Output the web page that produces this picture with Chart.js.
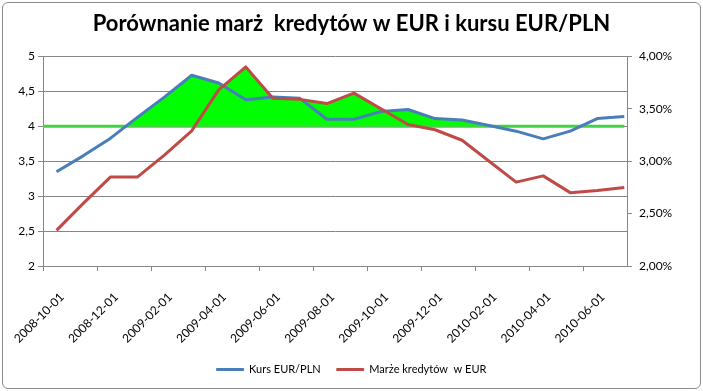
<!DOCTYPE html>
<html>
<head>
<meta charset="utf-8">
<script src="https://cdn.jsdelivr.net/npm/chart.js@4.4.0/dist/chart.umd.min.js"></script>
<style>
  html, body { margin: 0; padding: 0; background: #fff; }
  #wrap { position: relative; width: 703px; height: 391px; }
  #frame { position: absolute; left: 2px; top: 2px; width: 697px; height: 385px;
           border: 1px solid #8c8c8c; border-radius: 6px; pointer-events: none; }
</style>
</head>
<body>
<div id="wrap">
  <canvas id="chart" width="703" height="391"></canvas>
  <div id="frame"></div>
</div>
<script>
// months (first day of each month)
const months = [
  "2008-10-01", "2008-11-01", "2008-12-01", "2009-01-01", "2009-02-01", "2009-03-01",
  "2009-04-01", "2009-05-01", "2009-06-01", "2009-07-01", "2009-08-01", "2009-09-01",
  "2009-10-01", "2009-11-01", "2009-12-01", "2010-01-01", "2010-02-01", "2010-03-01",
  "2010-04-01", "2010-05-01", "2010-06-01", "2010-07-01"
];

// Kurs EUR/PLN (left axis)
const kursEurPln = [3.35, 3.58, 3.83, 4.13, 4.42, 4.73, 4.62, 4.38, 4.42, 4.40, 4.10,
                    4.10, 4.21, 4.24, 4.11, 4.09, 4.01, 3.93, 3.82, 3.93, 4.11, 4.14];

// Marze kredytow w EUR, % (right axis)
const marzeEur = [2.34, 2.60, 2.85, 2.85, 3.06, 3.29, 3.68, 3.90, 3.60, 3.59, 3.55,
                  3.65, 3.50, 3.35, 3.30, 3.20, 3.00, 2.80, 2.86, 2.70, 2.72, 2.75];

// green threshold line on the left axis, and the last month of the green area
const prog = 4;
const greenUntil = 16;

const leftTicks = [2, 2.5, 3, 3.5, 4, 4.5, 5];
const rightTicks = [2, 2.5, 3, 3.5, 4];

const BLUE = "#4A7EBB";
const RED = "#BE4B48";
const GRID = "#868686";

const xMin = -0.5;
const xMax = 21.1;

// the same height as "prog" expressed on the right axis
const yMin = leftTicks[0], yMax = leftTicks[leftTicks.length - 1];
const y1Min = rightTicks[0], y1Max = rightTicks[rightTicks.length - 1];
const progRight = y1Min + (prog - yMin) / (yMax - yMin) * (y1Max - y1Min);

const pts = arr => arr.map((v, i) => ({ x: i, y: v }));
const ptsUntil = arr => arr.map((v, i) => ({ x: i, y: i <= greenUntil ? v : null }));

Chart.defaults.font.family = "Lato";
Chart.defaults.color = "#000";

new Chart(document.getElementById("chart"), {
  type: "line",
  data: {
    datasets: [
      {
        label: "Kurs EUR/PLN",
        data: pts(kursEurPln),
        yAxisID: "y",
        borderColor: BLUE,
        backgroundColor: BLUE,
        borderWidth: 3,
        pointRadius: 0,
        borderJoinStyle: "round",
        order: 1
      },
      {
        label: "Marże kredytów  w EUR",
        data: pts(marzeEur),
        yAxisID: "y1",
        borderColor: RED,
        backgroundColor: RED,
        borderWidth: 3,
        pointRadius: 0,
        borderJoinStyle: "round",
        order: 0
      },
      {
        label: "prog",
        data: [{ x: xMin, y: prog }, { x: months.length - 1, y: prog }],
        yAxisID: "y",
        borderColor: "#40D440",
        borderWidth: 3,
        pointRadius: 0,
        order: 2
      },
      {
        label: "fillKurs",
        data: ptsUntil(kursEurPln),
        yAxisID: "y",
        borderColor: "transparent",
        pointRadius: 0,
        fill: { target: { value: prog }, above: "#00FF00", below: "rgba(0,0,0,0)" },
        order: 3
      },
      {
        label: "fillMarze",
        data: ptsUntil(marzeEur),
        yAxisID: "y1",
        borderColor: "transparent",
        pointRadius: 0,
        fill: { target: { value: progRight }, above: "#00FF00", below: "rgba(0,0,0,0)" },
        order: 4
      }
    ]
  },
  options: {
    responsive: false,
    animation: false,
    layout: { padding: { left: 0, right: 0, top: 0, bottom: 6 } },
    plugins: {
      title: {
        display: true,
        text: "Porównanie marż  kredytów w EUR i kursu EUR/PLN",
        font: { family: "Lato", size: 22, weight: "bold" },
        color: "#000",
        padding: { top: 11, bottom: 19 }
      },
      legend: {
        position: "bottom",
        labels: {
          font: { family: "Lato", size: 11 },
          color: "#000",
          boxWidth: 27,
          boxHeight: 2,
          padding: 16,
          filter: item => item.datasetIndex < 2,
          sort: (a, b) => a.datasetIndex - b.datasetIndex,
          generateLabels: chart => {
            const items = Chart.defaults.plugins.legend.labels.generateLabels(chart);
            return items.map(it => {
              it.fillStyle = it.strokeStyle;
              it.lineWidth = 1;
              return it;
            });
          }
        }
      },
      tooltip: { enabled: false }
    },
    scales: {
      x: {
        type: "linear",
        min: xMin,
        max: xMax,
        afterBuildTicks: scale => {
          scale.ticks = months
            .map((m, i) => i)
            .filter(i => i % 2 === 0)
            .map(i => ({ value: i - 0.5 }));
        },
        afterFit: scale => {
          scale.height = 82;
          scale.paddingLeft = 0;
          scale.paddingRight = 0;
        },
        ticks: {
          autoSkip: false,
          minRotation: 45,
          maxRotation: 45,
          padding: 19,
          labelOffset: 19,
          font: { size: 12 },
          callback: value => months[Math.round(value + 0.5)]
        },
        grid: { drawOnChartArea: false, color: GRID, tickLength: 5 },
        border: { color: GRID }
      },
      y: {
        position: "left",
        min: yMin,
        max: yMax,
        afterBuildTicks: scale => { scale.ticks = leftTicks.map(v => ({ value: v })); },
        afterFit: scale => { scale.width = 43; },
        ticks: {
          padding: 3,
          font: { size: 12 },
          callback: v => String(v).replace(".", ",")
        },
        grid: { color: GRID, tickLength: 5 },
        border: { color: GRID }
      },
      y1: {
        position: "right",
        min: y1Min,
        max: y1Max,
        afterBuildTicks: scale => { scale.ticks = rightTicks.map(v => ({ value: v })); },
        afterFit: scale => { scale.width = 76; },
        ticks: {
          padding: 7,
          font: { size: 12 },
          callback: v => v.toFixed(2).replace(".", ",") + "%"
        },
        grid: { drawOnChartArea: false, color: GRID, tickLength: 5 },
        border: { color: GRID }
      }
    }
  }
});
</script>
</body>
</html>
